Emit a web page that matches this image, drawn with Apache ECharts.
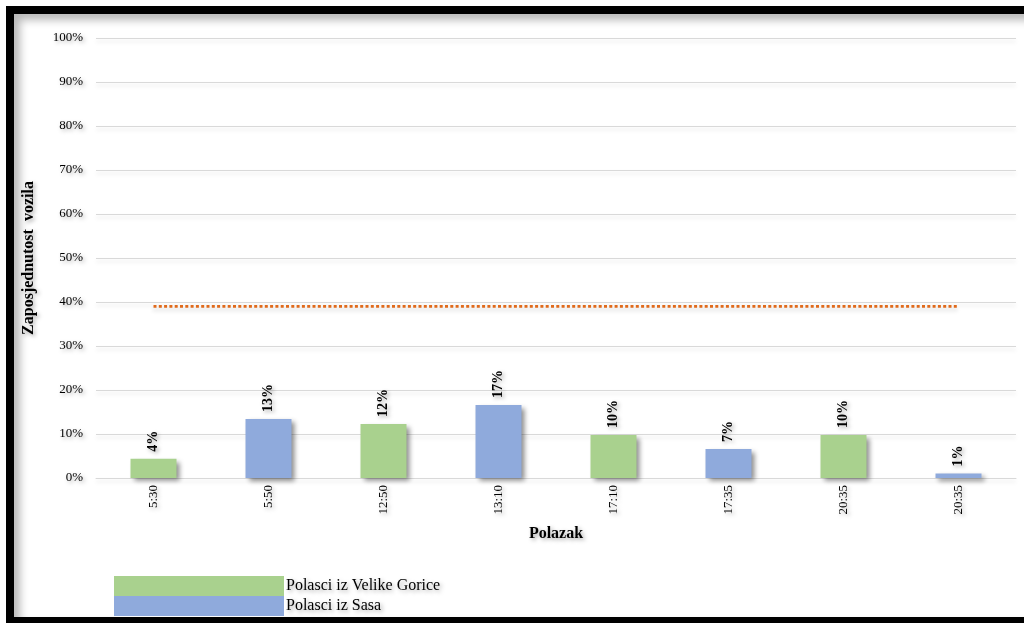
<!DOCTYPE html>
<html>
<head>
<meta charset="utf-8">
<script src="https://cdn.jsdelivr.net/npm/echarts@6/dist/echarts.min.js"></script>
<style>
  html, body { margin: 0; padding: 0; background: #fff; overflow: hidden; }
  #frame {
    position: absolute; left: 6px; top: 6px; width: 1040px; height: 603px;
    border-left: 8px solid #000; border-top: 8px solid #000; border-bottom: 8px solid #000;
    box-shadow: inset 6px 6px 8px rgba(0,0,0,0.28);
    background: #fff;
  }
  #chart { position: absolute; left: 0; top: 0; width: 1024px; height: 623px; }
</style>
</head>
<body>
<div id="frame"></div>
<div id="chart"></div>
<script>
const categories = ['5:30', '5:50', '12:50', '13:10', '17:10', '17:35', '20:35', '20:35'];
const veliekGoriceValues = [4.4, null, 12.3, null, 9.8, null, 9.8, null];
const sasValues = [null, 13.4, null, 16.6, null, 6.6, null, 1.0];
const referenceLine = [39, 39, 39, 39, 39, 39, 39, 39];
const seriesNames = ['Polasci iz Velike Gorice', 'Polasci iz Sasa'];
const yTicks = { min: 0, max: 100, interval: 10 };

const FONT = 'Liberation Serif';
const textShadow = { textShadowColor: 'rgba(0,0,0,0.35)', textShadowBlur: 4, textShadowOffsetX: 2, textShadowOffsetY: 2 };
const barShadow = { shadowColor: 'rgba(0,0,0,0.45)', shadowBlur: 5, shadowOffsetX: 3, shadowOffsetY: 3 };

const labelCfg = {
  show: true, position: 'top', distance: 7, rotate: 90,
  align: 'left', verticalAlign: 'middle',
  fontFamily: FONT, fontSize: 14, fontWeight: 'bold', color: '#000',
  formatter: p => Math.round(p.value) + '%',
  ...textShadow
};

const chart = echarts.init(document.getElementById('chart'), null, { renderer: 'canvas' });
chart.setOption({
  animation: false,
  backgroundColor: 'transparent',
  grid: { left: 96, right: 8, top: 38, bottom: 145 },
  legend: {
    show: true, orient: 'vertical', left: 114, top: 576, itemGap: 0, padding: 0,
    itemWidth: 170, itemHeight: 20, icon: 'rect',
    data: seriesNames,
    textStyle: { fontFamily: FONT, fontSize: 16, color: '#000', padding: [0, 0, 0, -3], ...textShadow }
  },
  xAxis: {
    type: 'category', data: categories,
    name: 'Polazak', nameLocation: 'middle', nameGap: 48,
    nameTextStyle: { fontFamily: FONT, fontSize: 16, fontWeight: 'bold', color: '#000', ...textShadow },
    axisLine: { lineStyle: { color: '#d9d9d9' } },
    axisTick: { show: false },
    axisLabel: { rotate: 90, margin: 7, fontFamily: FONT, fontSize: 13, color: '#000', ...textShadow }
  },
  yAxis: {
    type: 'value', min: yTicks.min, max: yTicks.max, interval: yTicks.interval,
    name: 'Zaposjednutost  vozila', nameLocation: 'middle', nameGap: 59,
    nameTextStyle: { fontFamily: FONT, fontSize: 16, fontWeight: 'bold', color: '#000', ...textShadow },
    axisLine: { show: false }, axisTick: { show: false },
    axisLabel: { formatter: '{value}%', margin: 13, fontFamily: FONT, fontSize: 13, color: '#000', ...textShadow },
    splitLine: { lineStyle: { color: '#d9d9d9', width: 1, shadowColor: 'rgba(0,0,0,0.15)', shadowBlur: 4, shadowOffsetY: 3 } }
  },
  series: [
    {
      name: seriesNames[0], type: 'bar', stack: 'a', data: veliekGoriceValues, barWidth: 46,
      itemStyle: { color: '#A9D18E', ...barShadow }, label: labelCfg
    },
    {
      name: seriesNames[1], type: 'bar', stack: 'a', data: sasValues, barWidth: 46,
      itemStyle: { color: '#8FAADC', ...barShadow }, label: labelCfg
    },
    {
      name: 'ref', type: 'line', data: referenceLine, symbol: 'none', silent: true,
      lineStyle: { color: '#E06A1B', width: 2.8, type: [3, 2.3], shadowColor: 'rgba(0,0,0,0.2)', shadowBlur: 4, shadowOffsetY: 3 }
    }
  ]
});
</script>
</body>
</html>
